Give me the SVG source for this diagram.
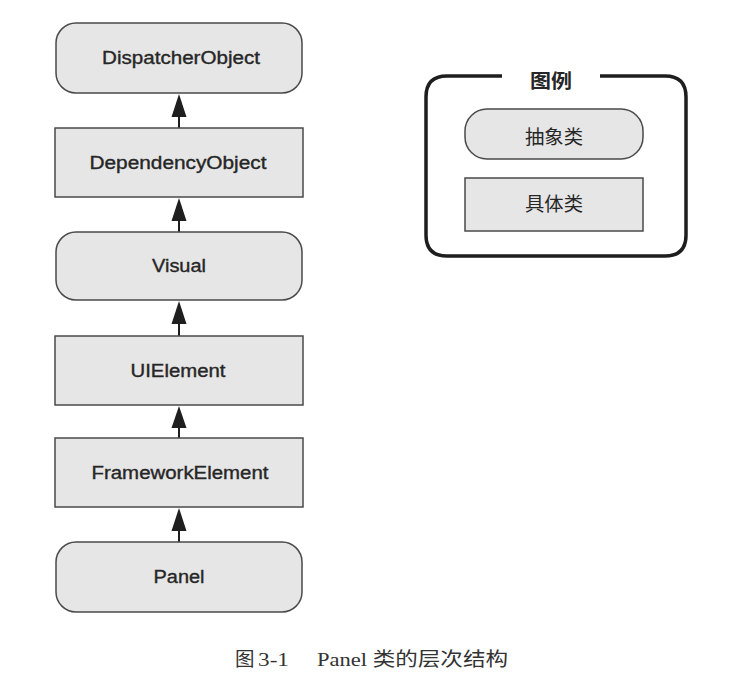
<svg xmlns="http://www.w3.org/2000/svg" width="738" height="694" viewBox="0 0 738 694">
<defs>
<style>
.box{fill:#e6e6e6;stroke:#4a4a4a;stroke-width:1.5}
.lbl{font-family:"Liberation Sans",Arial,sans-serif;font-size:17.5px;fill:#262626;stroke:#262626;stroke-width:0.35;text-anchor:middle}
.cjk{font-family:"Noto Sans CJK SC",sans-serif;font-size:19px;fill:#262626;text-anchor:middle}
.edge{stroke:#1e1e1e;stroke-width:2;fill:none}
.head{fill:#1e1e1e}
.cap{font-family:"Liberation Serif","Noto Sans CJK SC",serif;font-size:19.5px;fill:#333}
</style>
</defs>
<rect width="738" height="694" fill="#ffffff"/>

<g id="connectors">
<path class="edge" d="M179 128 L179 116"/><path class="head" d="M179 94 L186.5 117 L171.5 117 Z"/>
<path class="edge" d="M179 232 L179 220"/><path class="head" d="M179 198 L186.5 221 L171.5 221 Z"/>
<path class="edge" d="M179 336 L179 324"/><path class="head" d="M179 301 L186.5 324 L171.5 324 Z"/>
<path class="edge" d="M179 438 L179 426"/><path class="head" d="M179 406 L186.5 428 L171.5 428 Z"/>
<path class="edge" d="M179 542 L179 530"/><path class="head" d="M179 508 L186.5 531 L171.5 531 Z"/>
</g>

<g id="DispatcherObject">
<rect class="box" x="56" y="23" width="246" height="70" rx="20"/>
<text class="lbl" x="181" y="64" textLength="158" lengthAdjust="spacingAndGlyphs">DispatcherObject</text>
</g>
<g id="DependencyObject">
<rect class="box" x="55" y="128" width="248" height="69"/>
<text class="lbl" x="178" y="169" textLength="177" lengthAdjust="spacingAndGlyphs">DependencyObject</text>
</g>
<g id="Visual">
<rect class="box" x="56" y="232" width="246" height="68" rx="20"/>
<text class="lbl" x="179" y="272" textLength="54" lengthAdjust="spacingAndGlyphs">Visual</text>
</g>
<g id="UIElement">
<rect class="box" x="55" y="336" width="248" height="69"/>
<text class="lbl" x="178" y="377" textLength="95" lengthAdjust="spacingAndGlyphs">UIElement</text>
</g>
<g id="FrameworkElement">
<rect class="box" x="55" y="438" width="248" height="69"/>
<text class="lbl" x="180" y="479" textLength="177" lengthAdjust="spacingAndGlyphs">FrameworkElement</text>
</g>
<g id="Panel">
<rect class="box" x="56" y="542" width="246" height="70" rx="20"/>
<text class="lbl" x="179" y="583" textLength="51" lengthAdjust="spacingAndGlyphs">Panel</text>
</g>

<g id="legend">
<path d="M502 76 L447 76 Q426 76 426 97 L426 235 Q426 256 447 256 L665 256 Q686 256 686 235 L686 97 Q686 76 665 76 L600 76" fill="none" stroke="#1e1e1e" stroke-width="3.5"/>
<text class="cjk" x="551" y="88" font-weight="bold" textLength="42" lengthAdjust="spacingAndGlyphs">图例</text>
</g>
<g id="legend-abstract">
<rect class="box" x="465" y="109" width="178" height="50" rx="22"/>
<text class="cjk" x="554" y="144" textLength="58" lengthAdjust="spacingAndGlyphs">抽象类</text>
</g>
<g id="legend-concrete">
<rect class="box" x="465" y="178" width="178" height="53"/>
<text class="cjk" x="554" y="211" textLength="58" lengthAdjust="spacingAndGlyphs">具体类</text>
</g>

<g id="caption">
<text class="cap" x="235" y="666">图</text>
<text class="cap" x="258" y="666" textLength="31" lengthAdjust="spacingAndGlyphs">3-1</text>
<text class="cap" x="317" y="666" textLength="191" lengthAdjust="spacingAndGlyphs">Panel 类的层次结构</text>
</g>
</svg>
